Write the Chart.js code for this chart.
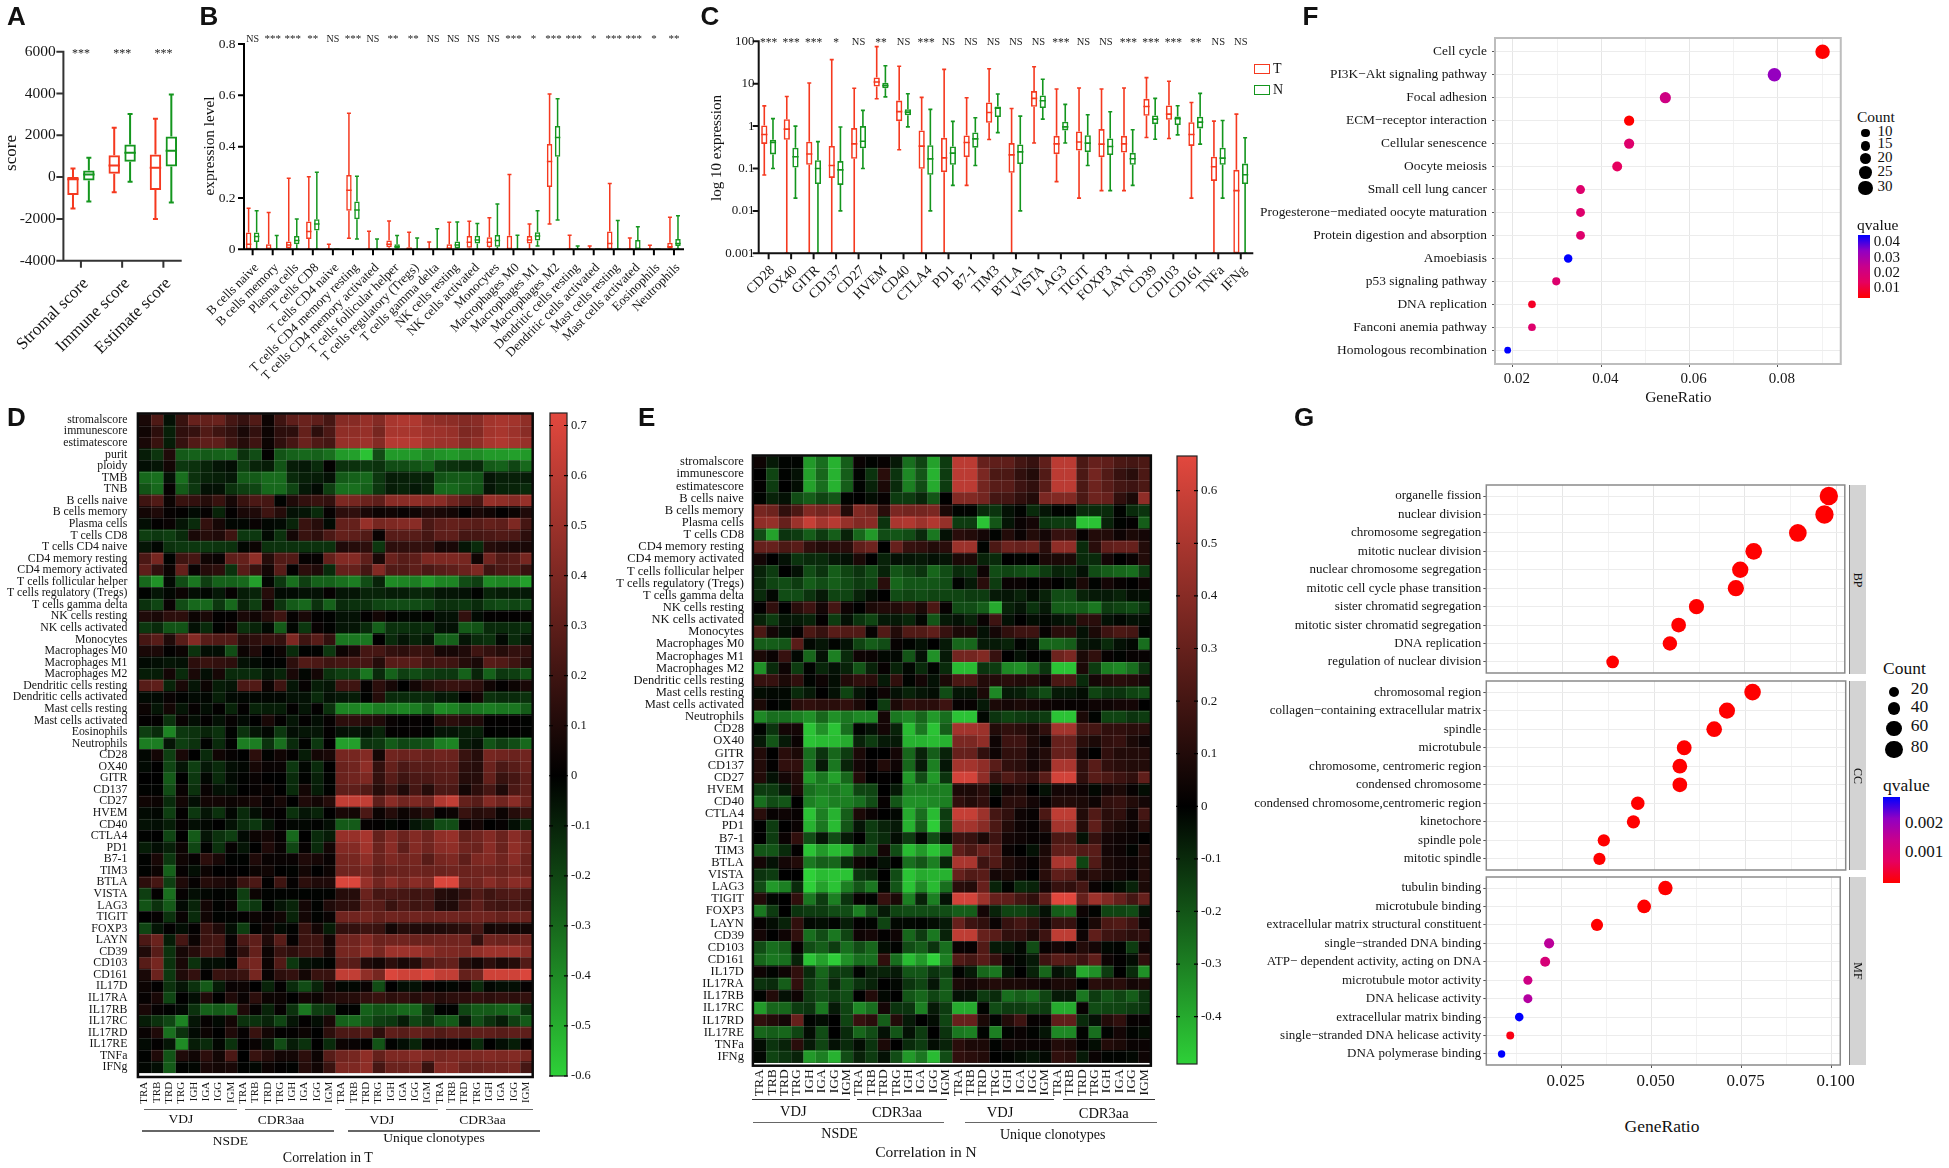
<!DOCTYPE html>
<html>
<head>
<meta charset="utf-8">
<title>Immune correlation figure</title>
<style>
body { margin: 0; background: #fff; width: 1949px; height: 1168px; position: relative; overflow: hidden; font-family: "Liberation Serif", serif; }
canvas { position: absolute; }
.t { position: absolute; white-space: nowrap; color: #111; line-height: 1; }
.d { position: absolute; }
</style>
<script src="https://cdn.jsdelivr.net/npm/chart.js@4/dist/chart.umd.js"></script>
</head>
<body>
<script>
// ---- panel A: [low whisker, q1, median, q3, high whisker]
const aLabels = ['Stromal score', 'Immune score', 'Estimate score'];
const aT = [[-1500,-860,-100,0,415],[-720,160,560,1040,2360],[-2000,-620,445,1085,2790]];
const aN = [[-1165,-160,130,320,925],[-220,730,1165,1560,3015],[-1210,510,1260,1945,3955]];
const aSig = ['***','***','***'];
const aTicks = [6000,4000,2000,0,-2000,-4000];

// ---- panel B
const bLabels = ['B cells naive','B cells memory','Plasma cells','T cells CD8','T cells CD4 naive','T cells CD4 memory resting','T cells CD4 memory activated','T cells follicular helper','T cells regulatory (Tregs)','T cells gamma delta','NK cells resting','NK cells activated','Monocytes','Macrophages M0','Macrophages M1','Macrophages M2','Dendritic cells resting','Dendritic cells activated','Mast cells resting','Mast cells activated','Eosinophils','Neutrophils'];
const bT = [[0,0,.02,.065,.16],[0,0,.003,.02,.143],[0,.004,.017,.03,.277],[0,.04,.069,.108,.283],[0,0,0,.002,.02],[.043,.15,.23,.29,.53],[0,0,0,.001,.07],[0,.008,.02,.034,.11],[0,0,.002,.008,.066],[0,0,0,.001,.028],[0,0,.004,.02,.105],[0,.006,.027,.052,.109],[0,.008,.027,.047,.123],[0,0,.002,.053,.291],[0,.023,.036,.052,.099],[.099,.243,.342,.41,.605],[0,0,0,.003,.055],[0,0,0,.001,.013],[0,0,.023,.069,.256],[0,0,0,.003,.044],[0,0,0,.001,.016],[0,.004,.01,.026,.125]];
const bN = [[0,.028,.05,.065,.15],[0,0,0,0,.054],[0,.02,.034,.052,.118],[0,.073,.099,.117,.3],[0,0,0,0,0],[.04,.117,.153,.186,.285],[0,0,0,0,.04],[0,.004,.01,.02,.054],[0,0,0,0,.044],[0,0,0,0,.08],[0,.004,.017,.03,.106],[0,.023,.036,.053,.101],[0,.01,.034,.056,.177],[0,0,0,0,.055],[.013,.034,.052,.066,.15],[.114,.361,.436,.48,.587],[0,0,0,0,.013],[0,0,0,0,0],[0,0,0,0,.112],[0,.001,.002,.036,.088],[0,0,0,0,0],[0,.013,.023,.04,.131]];
const bSig = ['NS','***','***','**','NS','***','NS','**','**','NS','NS','NS','NS','***','*','***','***','*','***','***','*','**'];
const bTicks = [.8,.6,.4,.2,0];

// ---- panel C
const cLabels = ['CD28','OX40','GITR','CD137','CD27','HVEM','CD40','CTLA4','PD1','B7-1','TIM3','BTLA','VISTA','LAG3','TIGIT','FOXP3','LAYN','CD39','CD103','CD161','TNFa','IFNg'];
const cT = [[.07,.38,.635,1.04,3],[.001,.475,.85,1.46,5],[.001,.122,.22,.43,10.4],[.001,.06,.118,.34,37],[.001,.17,.38,.9,7.8],[4.4,8.6,11,14,75],[.276,1.31,2.2,4,25.7],[.001,.098,.337,.79,4.75],[.001,.082,.178,.53,21.8],[.04,.185,.41,.6,4.67],[.484,1.2,2.1,3.6,22.6],[.001,.079,.21,.397,2.6],[.4,2.86,4.5,6.7,25.2],[.049,.218,.38,.59,7.5],[.02,.266,.42,.75,7.9],[.03,.185,.375,.85,7.5],[.03,.238,.38,.59,7.9],[.54,1.75,2.9,4.4,13.9],[.51,1.41,1.92,3.08,11.4],[.02,.34,.635,1.24,3.6],[.001,.051,.11,.19,1.31],[.001,.001,.03,.093,1.92]];
const cN = [[.1,.215,.41,.475,1.5],[.02,.105,.19,.31,1],[.001,.043,.1,.157,.43],[.01,.041,.093,.15,.95],[.1,.3,.44,1,2.35],[4.9,7.8,9,10.5,26.6],[.96,1.8,2.14,2.5,5.8],[.01,.071,.169,.355,2.48],[.04,.122,.23,.33,1.29],[.118,.31,.5,.71,1.57],[.7,1.63,2.66,2.9,5.7],[.01,.127,.247,.37,1.72],[1.46,2.66,3.96,5.3,12.7],[.4,.79,.96,1.27,3.25],[.118,.243,.397,.61,1.85],[.03,.207,.33,.51,2.18],[.04,.122,.17,.234,.82],[.49,1.11,1.46,1.79,4.5],[.62,1.06,1.49,1.69,3.02],[.375,.88,1.24,1.66,5.9],[.02,.122,.176,.31,1.36],[.001,.043,.071,.131,.53]];
const cSig = ['***','***','***','*','NS','**','NS','***','NS','NS','NS','NS','NS','***','NS','NS','***','***','***','**','NS','NS'];
const cTicks = [100,10,1,.1,.01,.001];

// ---- panels D and E, correlation x 100
const heatCols = ['TRA','TRB','TRD','TRG','IGH','IGA','IGG','IGM','TRA','TRB','TRD','TRG','IGH','IGA','IGG','IGM','TRA','TRB','TRD','TRG','IGH','IGA','IGG','IGM','TRA','TRB','TRD','TRG','IGH','IGA','IGG','IGM'];
const dRows = ['stromalscore','immunescore','estimatescore','purit','ploidy','TMB','TNB','B cells naive','B cells memory','Plasma cells','T cells CD8','T cells CD4 naive','CD4 memory resting','CD4 memory activated','T cells follicular helper','T cells regulatory (Tregs)','T cells gamma delta','NK cells resting','NK cells activated','Monocytes','Macrophages M0','Macrophages M1','Macrophages M2','Dendritic cells resting','Dendritic cells activated','Mast cells resting','Mast cells activated','Eosinophils','Neutrophils','CD28','OX40','GITR','CD137','CD27','HVEM','CD40','CTLA4','PD1','B7-1','TIM3','BTLA','VISTA','LAG3','TIGIT','FOXP3','LAYN','CD39','CD103','CD161','IL17D','IL17RA','IL17RB','IL17RC','IL17RD','IL17RE','TNFa','IFNg'];
const dCells = [
[8,25,-5,18,33,32,34,22,17,26,4,20,30,34,30,22,43,43,48,42,54,56,56,48,46,45,42,44,52,54,52,46],
[5,14,-9,15,17,26,20,16,8,16,4,14,14,32,14,24,46,46,48,38,54,54,54,50,50,48,40,42,52,54,50,44],
[8,18,-8,17,26,30,30,20,12,20,4,15,22,34,25,22,48,48,50,42,58,58,58,52,50,50,42,46,54,56,52,48],
[-8,-15,10,-26,-28,-26,-28,-30,-14,-22,1,-24,-28,-30,-28,-32,-44,-46,-56,-22,-44,-44,-44,-38,-42,-44,-40,-40,-44,-44,-46,-44],
[-4,-6,6,-16,-14,-10,-6,-4,-18,-10,-8,-24,-8,-7,-12,1,-14,-14,-16,-14,-22,-22,-24,-28,-16,-14,-12,-12,-26,-28,-20,-30],
[-30,-32,-5,-32,-14,-10,-9,-7,-26,-26,-31,-31,-12,-9,-8,-5,-26,-28,-30,-16,-8,-9,-10,-9,-24,-26,-26,-24,-6,-9,-9,-8],
[-24,-30,2,-26,-16,-5,-5,-14,-18,-20,-30,-30,-20,-7,-3,-18,-32,-32,-28,-16,-8,-10,-7,-10,-30,-30,-26,-24,-6,-10,-10,-12],
[20,26,4,18,16,12,18,7,18,24,22,-1,10,16,18,16,40,38,34,30,44,44,46,44,44,36,28,22,48,46,42,48],
[6,10,2,1,-3,2,-10,1,8,10,20,12,-5,-6,-12,2,14,15,8,4,5,3,5,10,8,6,1,8,5,1,4,10],
[-4,1,3,-6,-12,16,7,-2,-2,3,-2,-3,-10,18,12,-3,32,32,48,38,40,42,44,24,30,32,30,28,32,30,40,22],
[-18,-16,-18,-12,8,12,10,20,-16,-16,-3,-14,6,18,14,24,32,30,26,3,28,28,28,22,30,30,22,22,24,26,24,14],
[-6,-2,-14,-16,-16,-16,-15,-14,-2,4,-14,-14,-14,-14,-14,-14,10,12,14,-16,14,15,16,16,7,8,-6,-12,12,10,8,8],
[24,38,-1,20,22,5,3,30,32,46,12,26,26,2,2,32,42,42,30,8,34,28,30,40,40,40,38,5,36,26,28,38],
[30,16,4,32,3,12,14,-14,28,18,6,28,1,14,10,-12,32,32,22,42,26,26,30,24,28,30,34,40,20,24,26,18],
[-30,-42,-3,-22,-34,-18,-28,-28,-30,-46,-2,-16,-32,-18,-28,-28,-32,-36,-22,-10,-40,-38,-36,-44,-38,-38,-22,-18,-40,-38,-38,-46],
[-1,-6,-2,4,-4,-2,-7,2,-8,-10,12,-3,-3,-5,-5,2,-6,-6,-10,-10,-8,-8,-11,-10,-6,-6,-5,-1,-10,-8,-8,-7],
[-14,-20,3,-22,-30,-30,-16,-30,-10,-18,6,-15,-26,-30,-14,-28,-12,-14,-14,-20,-22,-22,-22,-20,-14,-14,-16,-12,-20,-22,-20,-22],
[10,8,14,14,4,8,1,1,8,5,12,20,2,8,1,-1,-5,-5,1,6,1,-2,-2,1,-5,-5,16,-3,1,1,1,2],
[-16,-12,-24,-24,-5,-12,-1,4,-14,-10,-3,-26,-2,-16,3,-1,-6,-6,-12,-28,-14,-14,-12,-14,-5,-5,-26,-24,-12,-12,-12,-14],
[22,28,10,28,42,28,26,26,12,14,18,16,40,20,28,16,-34,-34,-34,0,-12,-6,-10,-6,-28,-28,-6,-12,-14,-3,-12,-6],
[8,9,1,4,-14,-4,-4,-22,4,10,0,4,-12,-1,-1,-16,4,8,22,22,16,14,18,18,7,7,10,20,16,12,16,16],
[-3,-4,-6,-5,14,18,16,14,-5,-3,-1,-1,14,26,24,20,22,22,22,12,28,28,28,20,22,20,12,8,28,26,20,12],
[-8,-8,6,-12,8,-4,7,-12,-12,-12,-6,-10,8,-2,6,-14,-18,-18,-34,-12,-28,-18,-22,-18,-16,-16,-28,-10,-28,-16,-18,-24],
[28,30,-10,8,-6,4,-8,-6,24,26,4,20,-6,2,-8,-6,20,20,2,14,7,0,6,12,16,18,16,14,5,1,4,8],
[-3,-3,3,-1,-3,-2,-9,-3,-2,-2,-2,-2,-5,-5,-12,-5,-7,-8,-1,12,-12,-12,-12,-12,-7,-8,0,6,-14,-12,-12,-14],
[4,-6,6,-6,2,-4,1,-10,1,-10,-8,-8,1,-6,1,-14,-38,-38,-40,-36,-36,-38,-36,-28,-40,-38,-30,-34,-36,-34,-34,-26],
[1,1,-14,3,-4,1,-5,2,-3,0,8,1,-6,1,-4,2,14,14,12,10,3,1,2,1,12,14,10,10,1,1,1,-1],
[-18,-12,-38,-16,-14,-10,-14,-1,-14,-6,-2,-16,-4,-6,-6,1,-5,-6,-4,-10,1,1,2,-1,-6,-6,-8,-9,0,-1,1,-1],
[-36,-36,-6,-18,-14,-1,-12,-1,-36,-36,-14,-32,-12,-1,-16,0,-46,-46,-14,-16,-26,-20,-22,-24,-36,-38,-8,-5,-24,-18,-22,-30],
[-2,6,-18,8,0,-12,5,2,0,14,-1,5,1,-8,6,8,38,38,42,6,36,34,36,32,36,34,18,12,38,36,34,36],
[-3,0,-20,-6,-18,-7,-12,-4,-2,7,3,3,-16,-2,-12,0,34,36,46,16,32,24,28,28,30,30,14,12,34,24,28,34],
[0,0,-26,0,-16,-2,-12,-3,-1,3,0,0,-12,-1,-9,-1,34,36,40,16,28,20,24,24,28,28,12,12,32,18,22,30],
[-1,-1,-22,3,-14,3,-5,-5,0,2,4,0,-12,6,-8,-1,30,30,26,12,20,10,22,12,24,24,6,14,22,10,24,30],
[5,4,-12,6,-4,6,6,4,5,8,2,7,0,10,6,12,62,62,62,30,44,36,40,36,56,62,32,28,42,36,44,34],
[-3,-2,-18,1,-16,-6,-14,-2,-12,-4,3,1,-14,-6,-10,0,8,6,24,4,12,4,8,14,2,4,18,12,14,4,12,18],
[-5,-4,-8,2,-4,-2,0,-5,-12,-16,-6,1,-2,-2,-1,-4,-26,-26,2,1,-2,0,-6,-10,-22,-22,2,6,0,2,-4,-10],
[-1,0,-20,0,-26,-6,-14,-18,-3,4,6,2,-30,0,-12,-8,48,48,54,32,42,34,42,36,46,48,32,36,42,34,44,36],
[-8,-4,-9,4,-20,-1,-14,2,-6,0,10,3,-20,2,-12,6,42,42,52,34,44,30,42,36,44,46,36,34,44,34,46,38],
[-1,8,-16,5,2,14,8,-1,-1,10,3,3,3,10,7,3,38,38,46,34,40,36,38,28,38,40,30,40,42,36,44,34],
[-1,4,-28,2,-4,4,0,1,0,4,5,0,-1,6,0,4,36,36,40,30,34,34,36,34,34,36,34,36,36,34,38,34],
[14,22,-18,10,2,12,10,6,18,24,1,20,2,14,10,10,70,70,48,36,44,38,44,40,70,70,36,36,44,38,44,42],
[-18,1,-32,2,-4,-2,-1,-2,-18,4,-1,-1,-1,-1,-1,-1,12,12,34,22,24,22,20,22,12,10,16,26,20,24,26,22],
[-24,-14,-26,-3,-10,6,-1,3,-20,-16,-1,-6,-10,6,-1,10,14,14,30,28,18,24,20,22,10,10,22,30,22,20,22,20],
[0,2,-14,3,-12,5,-1,-1,1,4,2,5,-10,6,-1,3,36,36,38,32,36,34,36,34,36,36,34,36,36,32,36,34],
[-20,-6,1,-4,1,18,10,-4,-18,-1,5,-3,-1,18,6,-8,16,16,20,18,6,12,10,10,10,12,14,22,6,8,6,6],
[24,34,-8,22,4,20,22,3,24,30,10,28,2,20,20,6,36,36,42,34,36,36,34,34,36,36,36,16,36,34,36,36],
[10,28,-14,7,12,22,20,3,14,32,4,18,14,20,20,8,38,38,46,38,50,50,50,46,40,40,38,46,50,50,50,44],
[28,38,-14,8,-14,-4,-4,-1,32,38,4,26,-16,-5,-3,-1,30,28,10,6,14,8,12,26,30,32,12,6,14,8,12,26],
[8,34,-16,10,16,1,18,16,18,38,3,14,16,6,18,18,62,62,46,38,70,66,66,70,62,62,32,36,66,66,66,70],
[4,1,-14,-6,-14,-26,-8,3,4,0,-10,1,-12,-22,-10,6,-2,-2,3,-22,0,-4,-5,2,-1,-2,3,-12,-2,-4,-4,2],
[2,8,-20,0,-4,10,0,10,3,14,4,4,0,6,4,10,12,12,16,18,14,16,12,16,12,14,14,16,14,16,14,16],
[8,2,-1,-3,-14,-28,-26,-28,10,2,-10,2,-14,-34,-18,-16,-1,-1,-28,-24,-26,-30,-30,-14,-1,-1,-20,-26,-26,-28,-30,-14],
[-8,-14,-20,-38,-6,2,-3,6,-14,-14,-10,-20,-6,1,-4,8,-28,-30,-24,-18,-16,-8,-20,-14,-24,-26,-6,-22,-14,-8,-18,-26],
[3,10,-32,-14,-3,4,0,10,2,18,6,1,1,4,0,14,24,24,28,14,30,28,32,30,26,30,28,30,30,28,30,30],
[-3,1,-6,-40,-8,-12,-2,-14,0,3,-6,-22,-8,-14,0,-12,4,3,1,-24,-1,-4,-10,2,2,2,1,-12,0,-4,-8,1],
[-1,10,-24,10,5,14,6,24,0,18,12,6,6,14,4,28,36,38,46,32,40,40,44,40,38,40,40,40,42,40,42,38],
[-2,-4,-26,-1,-2,8,6,8,-1,-2,4,1,-1,12,5,18,40,40,46,22,34,34,38,18,42,42,34,34,36,36,38,22]
];
const dBarTicks = [.7,.6,.5,.4,.3,.2,.1,0,-.1,-.2,-.3,-.4,-.5,-.6];

const eRows = ['stromalscore','immunescore','estimatescore','B cells naive','B cells memory','Plasma cells','T cells CD8','CD4 memory resting','CD4 memory activated','T cells follicular helper','T cells regulatory (Tregs)','T cells gamma delta','NK cells resting','NK cells activated','Monocytes','Macrophages M0','Macrophages M1','Macrophages M2','Dendritic cells resting','Mast cells resting','Mast cells activated','Neutrophils','CD28','OX40','GITR','CD137','CD27','HVEM','CD40','CTLA4','PD1','B7-1','TIM3','BTLA','VISTA','LAG3','TIGIT','FOXP3','LAYN','CD39','CD103','CD161','IL17D','IL17RA','IL17RB','IL17RC','IL17RD','IL17RE','TNFa','IFNg'];
const eCells = [
[4,-6,-1,-1,-36,-26,-42,-22,3,-1,2,-6,-26,-16,-38,-14,55,55,30,28,28,20,16,28,55,55,22,30,28,22,20,22],
[0,-16,-1,-4,-38,-24,-42,-22,-1,-12,12,-12,-32,-20,-42,-14,55,55,36,22,22,14,10,24,55,55,22,34,24,16,12,22],
[1,-14,0,-3,-38,-26,-42,-22,-1,-8,8,-10,-30,-18,-40,-14,55,55,34,26,26,18,14,26,55,55,22,32,26,20,18,22],
[-1,-8,-4,-18,-22,-16,-20,-1,0,-3,2,-14,-14,-9,-20,0,38,38,34,20,20,14,10,36,38,38,22,32,30,14,8,42],
[35,32,14,22,38,34,38,10,38,34,12,36,34,34,36,8,-1,-1,-10,-12,-4,-1,-10,-5,-1,-1,-10,-10,-10,-1,-10,-12],
[42,44,30,46,58,48,54,44,38,40,-12,50,52,46,52,44,-14,-14,-46,-20,-5,3,6,-12,-14,-14,-46,-46,-8,-1,1,-22],
[-18,-38,-12,-14,-22,-14,-22,-8,-24,-36,-18,-20,-18,-10,-28,-4,12,10,6,-1,10,3,10,6,16,16,2,10,10,4,8,6],
[30,30,22,26,14,10,12,12,28,32,0,30,16,14,10,12,46,46,-1,22,32,30,32,12,42,42,-10,12,28,30,30,10],
[6,0,-4,-12,-10,-10,-6,-4,8,0,-8,-4,-5,-6,-4,-5,8,8,-8,-10,0,-1,0,8,8,8,-10,-10,6,0,3,10],
[-8,-14,0,-4,-18,-12,-22,-16,-12,-18,-8,-20,-16,-12,-24,-18,-10,-12,4,-18,-16,-18,-20,-14,-8,-10,-4,-18,-22,-24,-26,-14],
[-10,-16,-18,-14,-22,-18,-22,-18,-14,-16,12,-24,-20,-20,-20,-18,-1,-6,12,-14,3,3,0,3,0,-3,8,-1,6,2,0,4],
[-10,-2,-18,-18,-12,-6,-16,-16,-8,-3,0,-18,-16,-18,-16,-16,-16,-14,-14,-6,-5,-8,-3,-8,-18,-18,-8,-6,-6,-8,-3,-3],
[1,14,0,12,18,6,20,4,0,8,10,10,14,8,22,2,-18,-18,-22,-40,-8,-5,-12,-6,-22,-22,-22,-28,-14,-16,-18,-12],
[-8,-14,-5,-6,-8,1,-14,-4,-12,-16,-6,-6,-9,-2,-20,-6,-4,-8,3,18,-4,0,-3,-2,-4,-6,12,12,-4,-2,-4,-3],
[22,6,-3,2,22,16,26,24,24,2,24,10,24,24,28,16,8,8,-4,6,14,18,18,2,12,12,-4,8,18,22,20,-1],
[-22,-22,-20,26,-2,-5,-1,-4,-16,-22,-18,2,-1,-4,0,-6,-24,-24,-6,-6,-8,-1,-4,-24,-24,-22,-6,-4,-10,-4,-2,-26],
[8,3,16,-2,-24,-4,-30,-10,4,3,-2,-2,-20,-4,-34,-6,34,34,38,16,0,-4,1,-1,32,36,8,14,2,-1,2,2],
[-34,-10,4,-14,-1,-9,-4,-8,-20,-8,2,-8,-2,-10,-1,-10,-44,-44,-12,-14,-32,-34,-26,-12,-46,-46,8,-14,-30,-32,-26,-12],
[16,16,8,14,-1,4,-3,10,14,12,-6,14,-1,6,-4,8,22,22,10,10,12,10,10,4,22,22,-10,6,10,12,10,6],
[-3,-2,-2,-10,-6,0,-4,-16,-5,-1,4,-4,-8,-5,-3,-18,-5,-5,8,-32,-6,-7,-12,-18,-6,-6,-3,-16,-12,-12,-16,-18],
[8,0,-2,12,14,12,12,14,8,0,-14,8,14,12,12,18,2,2,-6,8,6,8,6,4,3,2,2,4,4,6,6,0],
[-32,-26,-26,-30,-34,-24,-34,-28,-32,-32,6,-28,-32,-24,-36,-26,-46,-46,-2,-12,-16,-14,-12,-14,-46,-46,8,-1,-16,-16,-12,-14],
[-1,-12,6,6,-46,-34,-46,-26,-1,-4,6,-8,-44,-28,-46,-22,48,48,46,10,14,12,8,14,48,48,20,20,14,14,12,12],
[-6,-20,-6,3,-46,-44,-44,-40,-8,-14,-6,-6,-42,-42,-44,-42,36,36,42,4,18,18,8,3,30,30,12,8,14,16,8,4],
[10,0,12,8,-26,-12,-24,-14,8,0,0,6,-24,-8,-22,-8,30,30,14,4,14,14,6,10,30,30,5,0,14,10,10,10],
[10,1,14,14,-26,-6,-28,-8,6,2,10,4,-24,-6,-30,-5,48,48,42,26,14,12,6,10,50,50,14,26,14,12,10,10],
[10,-4,6,10,-36,-28,-38,-24,10,0,1,0,-36,-18,-36,-12,62,62,42,16,24,18,14,26,62,62,14,26,22,18,14,28],
[-14,-14,-6,8,-26,-30,-28,-32,-16,-16,0,-6,-30,-30,-30,-30,8,8,12,-3,6,8,0,-4,6,6,4,-2,6,8,2,-3],
[-26,-18,-20,0,-30,-34,-30,-30,-26,-18,2,-20,-34,-34,-32,-30,14,10,14,0,12,12,6,2,10,10,8,4,14,16,10,6],
[12,2,4,2,-46,-30,-42,-22,8,3,0,-2,-40,-26,-44,-14,58,58,46,20,14,4,2,22,56,56,10,24,12,14,4,20],
[0,-14,0,3,-42,-28,-44,-20,-5,-14,-8,-6,-42,-22,-48,-16,48,48,40,22,10,4,2,10,48,48,10,28,12,8,4,12],
[0,-14,3,14,-18,-5,-18,-6,0,-14,-10,-3,-14,-2,-18,-3,18,16,8,18,6,4,2,3,22,22,-4,16,6,4,3,0],
[-20,-20,-10,1,-46,-36,-44,-40,-20,-18,6,-18,-44,-36,-46,-36,28,22,30,24,3,0,-4,8,28,28,24,26,6,4,-1,10],
[6,-4,6,10,-28,-22,-24,-10,4,1,-4,0,-26,-20,-30,-8,50,50,18,24,10,6,2,10,50,50,-16,24,8,6,4,8],
[-12,-14,0,0,-50,-44,-46,-46,-12,-10,0,-18,-46,-40,-42,-42,30,24,26,6,8,4,0,12,28,26,8,12,8,6,2,10],
[-18,-36,-30,-10,-50,-38,-46,-30,-20,-28,-2,-20,-46,-32,-44,-26,12,10,30,-8,-1,-10,-8,6,16,14,20,3,-1,-3,-8,8],
[10,-2,0,14,-28,-14,-30,-12,2,-1,16,8,-30,-8,-30,-4,62,62,46,30,28,20,14,28,66,66,30,46,38,30,20,30],
[-28,-14,0,-12,-14,-14,-18,-18,-30,-18,-6,-16,-18,-18,-18,-18,-22,-22,6,-8,-16,-16,-12,-4,-22,-24,4,-1,-16,-16,-18,-4],
[2,-3,-8,14,-2,-3,-1,-7,1,-1,-16,-2,-2,-1,-3,-6,30,18,14,3,16,20,14,5,16,16,0,8,22,24,18,4],
[6,0,4,14,-26,-18,-28,-16,4,6,1,4,-24,-14,-28,-8,56,56,30,26,14,14,8,18,56,56,4,28,18,16,12,14],
[-18,-26,-22,2,-18,-22,-14,-26,-18,-24,-3,-1,-18,-22,-12,-26,3,2,24,-6,-6,-2,-18,2,6,2,10,6,-2,-1,-14,4],
[-24,-28,-26,-8,-46,-38,-48,-34,-26,-26,14,-26,-44,-36,-50,-30,24,20,26,16,3,-2,-6,18,26,24,18,28,4,1,-3,14],
[4,-1,4,14,-10,-24,-14,-14,-1,-8,-8,-6,-20,-20,-12,-16,-1,-6,-24,-28,-5,0,-8,-24,-4,-8,-40,-34,-14,0,-10,-34],
[-12,-10,-22,14,-14,-20,-8,-20,-12,-8,0,-2,-12,-16,-5,-20,8,6,8,10,8,8,6,4,8,8,0,12,10,12,6,8],
[-1,10,-4,4,-14,-18,-14,-18,0,10,-2,0,-20,-24,-16,-22,-4,-5,-14,-10,-26,-22,-26,-16,-6,-6,-28,-14,-20,-16,-22,-12],
[-36,-24,-24,-14,-12,-28,-6,-16,-32,-26,6,-12,-12,-30,-6,-14,-40,-40,-1,-18,-14,-14,-16,-14,-40,-40,2,-18,-16,-16,-14,-12],
[14,10,6,30,-1,-3,0,-16,16,12,-22,10,-6,0,-3,-16,30,30,8,-1,10,18,2,2,28,28,-10,-4,10,14,2,2],
[-24,-22,-24,-16,-3,-18,0,-10,-24,-18,-4,-20,-4,-14,0,-12,-28,-30,-1,-30,-1,3,-1,-5,-32,-32,-1,-26,-1,6,-1,-3],
[-3,-12,-8,12,-6,-16,-4,-10,-3,-12,8,0,-10,-14,-3,-8,12,8,8,-1,6,4,3,3,10,8,1,-3,10,8,3,3],
[-2,-16,-12,-8,-36,-30,-42,-18,-8,-14,-4,-18,-36,-28,-44,-18,14,12,10,0,-1,-3,-5,-2,14,12,-6,3,-1,-1,-2,4]
];
const eBarTicks = [.6,.5,.4,.3,.2,.1,0,-.1,-.2,-.3,-.4];

// ---- panel F
const fTerms = ['Cell cycle','PI3K−Akt signaling pathway','Focal adhesion','ECM−receptor interaction','Cellular senescence','Oocyte meiosis','Small cell lung cancer','Progesterone−mediated oocyte maturation','Protein digestion and absorption','Amoebiasis','p53 signaling pathway','DNA replication','Fanconi anemia pathway','Homologous recombination'];
const fRatio = [.0901,.0792,.0545,.0463,.0463,.0436,.0353,.0353,.0353,.0325,.0298,.0243,.0243,.0188];
const fCount = [32,28,19,16,16,15,12,12,12,11,10,9,9,7];
const fQ = [.0024,.0326,.021,.0024,.0156,.0127,.0156,.0156,.0156,.0437,.016,.0065,.0156,.0437];
const fXTicks = [.02,.03,.04,.05,.06,.07,.08,.09];
const fLegendCount = [10,15,20,25,30];
const fLegendQ = [.04,.03,.02,.01];

// ---- panel G
const gBpTerms = ['organelle fission','nuclear division','chromosome segregation','mitotic nuclear division','nuclear chromosome segregation','mitotic cell cycle phase transition','sister chromatid segregation','mitotic sister chromatid segregation','DNA replication','regulation of nuclear division'];
const gBpRatio = [.098,.0968,.0895,.0774,.0737,.0725,.0617,.0568,.0544,.0387];
const gBpCount = [96,95,88,76,72,71,60,56,53,38];
const gBpQ = [0,0,0,0,0,0,0,0,0,0];
const gCcTerms = ['chromosomal region','collagen−containing extracellular matrix','spindle','microtubule','chromosome, centromeric region','condensed chromosome','condensed chromosome,centromeric region','kinetochore','spindle pole','mitotic spindle'];
const gCcRatio = [.0769,.0699,.0664,.0582,.057,.057,.0455,.0443,.0362,.035];
const gCcCount = [75,69,65,57,56,56,45,43,35,34];
const gCcQ = [0,0,0,0,0,0,0,0,0,0];
const gMfTerms = ['tubulin binding','microtubule binding','extracellular matrix structural constituent','single−stranded DNA binding','ATP− dependent activity, acting on DNA','microtubule motor activity','DNA helicase activity','extracellular matrix binding','single−stranded DNA helicase activity','DNA polymerase binding'];
const gMfRatio = [.0538,.0479,.0348,.0215,.0204,.0156,.0156,.0132,.0107,.0083];
const gMfCount = [53,47,34,21,20,15,15,13,10,8];
const gMfQ = [0,0,0,.0016,.0011,.0013,.0017,.00287,.00015,.00287];
const gXTicks = [.0125,.025,.0375,.05,.0625,.075,.0875,.1];
const gLegendCount = [20,40,60,80];
const gLegendQ = [.002,.001];

const RED = '#f5391f';
const GREEN = '#14961e';
const SERIF = '"Liberation Serif"';
Chart.defaults.font.family = SERIF;
Chart.defaults.color = '#151515';
Chart.defaults.animation = false;
Chart.defaults.plugins.legend.display = false;
Chart.defaults.plugins.tooltip.enabled = false;

function addCanvas(box) {
    const c = document.createElement('canvas');
    c.width = box.right - box.left;
    c.height = box.bottom - box.top;
    c.style.left = box.left + 'px';
    c.style.top = box.top + 'px';
    document.body.appendChild(c);
    return c;
}

// text placed by its centre (or its left edge with left=true)
function addText(text, x, y, size, o = {}) {
    const d = document.createElement('div');
    d.className = 't';
    d.textContent = text;
    d.style.left = x + 'px';
    d.style.top = y + 'px';
    d.style.fontSize = size + 'px';
    if (o.family) d.style.fontFamily = o.family;
    if (o.bold) d.style.fontWeight = 'bold';
    const shift = o.left ? 'translate(0,-50%)' : 'translate(-50%,-50%)';
    d.style.transform = shift + (o.rot ? ` rotate(${o.rot}deg)` : '');
    document.body.appendChild(d);
}

function addRect(x1, y1, x2, y2, css) {
    const d = document.createElement('div');
    d.className = 'd';
    d.style.left = x1 + 'px';
    d.style.top = y1 + 'px';
    d.style.width = (x2 - x1) + 'px';
    d.style.height = (y2 - y1) + 'px';
    Object.assign(d.style, css);
    document.body.appendChild(d);
}

// box, whiskers, axis lines, significance marks
const boxMarks = {
    id: 'boxMarks',
    afterDatasetsDraw(chart, args, o) {
        const ctx = chart.ctx, y = chart.scales.y, x = chart.scales.x, area = chart.chartArea;
        ctx.save();
        chart.data.datasets.forEach((ds, d) => {
            ctx.strokeStyle = ds.borderColor;
            ctx.lineWidth = o.lineWidth;
            chart.getDatasetMeta(d).data.forEach((bar, i) => {
                const [lo, q1, med, q3, hi] = ds.stats[i];
                const w = bar.width / 2, c = o.cap;
                ctx.beginPath();
                ctx.moveTo(bar.x, y.getPixelForValue(hi));
                ctx.lineTo(bar.x, y.getPixelForValue(q3));
                ctx.moveTo(bar.x, y.getPixelForValue(q1));
                ctx.lineTo(bar.x, y.getPixelForValue(lo));
                ctx.moveTo(bar.x - c, y.getPixelForValue(hi));
                ctx.lineTo(bar.x + c, y.getPixelForValue(hi));
                ctx.moveTo(bar.x - c, y.getPixelForValue(lo));
                ctx.lineTo(bar.x + c, y.getPixelForValue(lo));
                ctx.moveTo(bar.x - w, y.getPixelForValue(med));
                ctx.lineTo(bar.x + w, y.getPixelForValue(med));
                ctx.stroke();
            });
        });
        ctx.strokeStyle = o.axisColor;
        ctx.lineWidth = o.axisWidth;
        ctx.beginPath();
        ctx.moveTo(o.axisX, area.top - 1);
        ctx.lineTo(o.axisX, area.bottom + 1);
        ctx.moveTo(o.axisX, area.bottom);
        ctx.lineTo(o.axisEnd, area.bottom);
        y.ticks.forEach(t => {
            const p = y.getPixelForValue(t.value);
            ctx.moveTo(o.axisX, p);
            ctx.lineTo(o.axisX - o.tick, p);
        });
        x.ticks.forEach((t, i) => {
            const p = x.getPixelForTick(i);
            ctx.moveTo(p, area.bottom);
            ctx.lineTo(p, area.bottom + o.tick);
        });
        ctx.stroke();
        ctx.fillStyle = '#222';
        ctx.textAlign = 'center';
        ctx.textBaseline = 'middle';
        o.sig.forEach((s, i) => {
            ctx.font = (s === 'NS' ? o.sigSize : o.sigSize + 1) + 'px ' + SERIF;
            ctx.fillText(s, x.getPixelForTick(i), o.sigY);
        });
        ctx.restore();
    }
};

function boxChart(c) {
    // canvas starts left of the page so long rotated labels never push the plot area
    const box = { left: -120, top: 0, right: c.area.right + 20, bottom: 400 };
    new Chart(addCanvas(box), {
        type: 'bar',
        data: {
            labels: c.labels,
            datasets: [
                { data: c.T.map(s => [s[1], s[3]]), stats: c.T, borderColor: RED, backgroundColor: 'transparent', borderWidth: c.lineWidth, borderSkipped: false },
                { data: c.N.map(s => [s[1], s[3]]), stats: c.N, borderColor: GREEN, backgroundColor: 'transparent', borderWidth: c.lineWidth, borderSkipped: false }
            ]
        },
        options: {
            responsive: false,
            devicePixelRatio: 1,
            layout: { padding: { left: 0, top: c.area.top, right: box.right - c.area.right, bottom: 0 } },
            categoryPercentage: c.catPct,
            barPercentage: c.barPct,
            scales: {
                x: {
                    border: { display: false },
                    grid: { display: false, drawTicks: false },
                    afterFit: s => { s.height = box.bottom - c.area.bottom; },
                    ticks: { autoSkip: false, minRotation: 45, maxRotation: 45, font: { size: c.xFont }, padding: c.xPad, labelOffset: c.labelOffset }
                },
                y: {
                    type: c.log ? 'logarithmic' : 'linear',
                    min: c.min,
                    max: c.max,
                    border: { display: false },
                    grid: { display: false, drawTicks: false },
                    afterFit: s => { s.width = c.area.left - box.left; },
                    afterBuildTicks: s => { s.ticks = c.ticks.map(v => ({ value: v })); },
                    ticks: { autoSkip: false, font: { size: c.yFont }, padding: c.yPad, callback: v => String(v) }
                }
            },
            plugins: {
                boxMarks: { lineWidth: c.lineWidth, cap: c.cap, axisX: c.axisX - box.left, axisEnd: c.axisEnd - box.left, axisColor: c.axisColor, axisWidth: 2, tick: c.tick, sig: c.sig, sigY: c.sigY, sigSize: c.sigSize }
            }
        },
        plugins: [boxMarks]
    });
}

boxChart({ labels: aLabels, T: aT, N: aN, sig: aSig, ticks: aTicks, min: -4000, max: 6000,
    area: { left: 60.3, right: 184.8, top: 51.7, bottom: 260.7 }, axisX: 63.4, axisEnd: 181.7, axisColor: '#333',
    catPct: .77, barPct: .72, lineWidth: 2, cap: 2.5, tick: 7, xFont: 17, yFont: 15.5, xPad: 13, yPad: 4.5, labelOffset: 5, sigY: 53.5, sigSize: 11 });
boxChart({ labels: bLabels, T: bT, N: bN, sig: bSig, ticks: bTicks, min: 0, max: .8,
    area: { left: 242.6, right: 684.7, top: 44, bottom: 249.3 }, axisX: 244, axisEnd: 684, axisColor: '#000',
    catPct: .8, barPct: .68, lineWidth: 1.5, cap: 2, tick: 6, xFont: 13, yFont: 13.5, xPad: 11, yPad: 7, labelOffset: 4, sigY: 39.5, sigSize: 10 });
boxChart({ labels: cLabels, T: cT, N: cN, sig: cSig, ticks: cTicks, min: .001, max: 100, log: true,
    area: { left: 757.4, right: 1252.2, top: 41.3, bottom: 253.3 }, axisX: 758.7, axisEnd: 1253.3, axisColor: '#111',
    catPct: .773, barPct: .72, lineWidth: 1.6, cap: 2, tick: 6, xFont: 14, yFont: 13, xPad: 9, yPad: 3, labelOffset: 4, sigY: 42.5, sigSize: 10.5 });

// heat colour: black at zero, red above, green below
function heatColor(v, max, min) {
    const t = v >= 0 ? Math.min(v / max, 1) : Math.min(v / min, 1);
    const top = v >= 0 ? [226, 72, 62] : [46, 208, 56];
    return `rgb(${Math.round(top[0] * t)},${Math.round(top[1] * t)},${Math.round(top[2] * t)})`;
}

const heatFrame = {
    id: 'heatFrame',
    beforeDatasetsDraw(chart) {
        const a = chart.chartArea;
        chart.ctx.fillStyle = '#111';
        chart.ctx.fillRect(a.left, a.top, a.right - a.left, a.bottom - a.top);
    },
    afterDatasetsDraw(chart, args, o) {
        const ctx = chart.ctx, a = chart.chartArea, x = chart.scales.x;
        const rowH = (a.bottom - a.top) / chart.data.labels.length;
        ctx.save();
        ctx.strokeStyle = 'rgba(255,255,255,.13)';
        ctx.lineWidth = 1;
        ctx.beginPath();
        heatCols.forEach((_, i) => {
            const p = Math.round(x.getPixelForValue(i)) + .5;
            ctx.moveTo(p, a.top);
            ctx.lineTo(p, a.bottom);
        });
        chart.data.labels.forEach((_, i) => {
            const p = Math.round(a.top + i * rowH) + .5;
            ctx.moveTo(a.left, p);
            ctx.lineTo(a.right, p);
        });
        ctx.stroke();
        ctx.strokeStyle = '#0a0a0a';
        ctx.lineWidth = 2.5;
        ctx.strokeRect(a.left - .5, a.top - .5, a.right - a.left + 1, a.bottom - a.top + o.extra);
        ctx.restore();
    }
};

function heatChart(c) {
    const box = { left: c.boxLeft, top: c.area.top - 30, right: c.area.right + 10, bottom: 1168 };
    new Chart(addCanvas(box), {
        type: 'bar',
        data: {
            labels: c.rows,
            datasets: heatCols.map((name, col) => ({
                label: name,
                data: c.rows.map(() => 1),
                backgroundColor: ctx => heatColor(c.cells[ctx.dataIndex][col] / 100, c.max, c.min),
                borderWidth: 0
            }))
        },
        options: {
            responsive: false,
            devicePixelRatio: 1,
            indexAxis: 'y',
            categoryPercentage: 1,
            barPercentage: 1,
            layout: { padding: { left: 0, top: 30, right: 10, bottom: 0 } },
            scales: {
                x: {
                    type: 'linear', min: 0, max: heatCols.length, stacked: true,
                    border: { display: false },
                    grid: { display: false, drawTicks: false },
                    afterFit: s => { s.height = box.bottom - c.area.bottom; },
                    afterBuildTicks: s => { s.ticks = heatCols.map((_, i) => ({ value: i + .5 })); },
                    ticks: { autoSkip: false, minRotation: 90, maxRotation: 90, font: { size: c.colFont }, padding: c.colPad, callback: (v, i) => heatCols[i] }
                },
                y: {
                    stacked: true,
                    border: { display: false },
                    grid: { display: false, drawTicks: false },
                    afterFit: s => { s.width = c.area.left - box.left; },
                    ticks: { autoSkip: false, font: { size: c.rowFont }, padding: c.rowPad }
                }
            },
            plugins: { heatFrame: { extra: c.extra } }
        },
        plugins: [heatFrame]
    });
}

// colour scale as one floating bar on a value axis
const barFrame = {
    id: 'barFrame',
    afterDatasetsDraw(chart) {
        const ctx = chart.ctx, a = chart.chartArea, y = chart.scales.y;
        ctx.save();
        ctx.strokeStyle = '#222';
        ctx.lineWidth = 1.2;
        ctx.strokeRect(a.left, a.top, a.right - a.left, a.bottom - a.top);
        ctx.strokeStyle = '#000';
        ctx.beginPath();
        y.ticks.forEach(t => {
            const p = y.getPixelForValue(t.value);
            ctx.moveTo(a.left - 1, p);
            ctx.lineTo(a.left + 3, p);
            ctx.moveTo(a.right - 3, p);
            ctx.lineTo(a.right + 1, p);
        });
        ctx.stroke();
        ctx.restore();
    }
};

function colorBar(c) {
    const box = { left: c.area.left - 5, top: c.area.top - 20, right: c.area.right + 40, bottom: c.area.bottom + 20 };
    new Chart(addCanvas(box), {
        type: 'bar',
        data: {
            labels: [''],
            datasets: [{
                data: [[c.min, c.max]],
                borderWidth: 0,
                backgroundColor: ctx => {
                    const a = ctx.chart.chartArea;
                    if (!a) return '#000';
                    const g = ctx.chart.ctx.createLinearGradient(0, a.top, 0, a.bottom);
                    g.addColorStop(0, heatColor(c.max, c.max, c.min));
                    g.addColorStop(c.max / (c.max - c.min), '#000');
                    g.addColorStop(1, heatColor(c.min, c.max, c.min));
                    return g;
                }
            }]
        },
        options: {
            responsive: false,
            devicePixelRatio: 1,
            categoryPercentage: 1,
            barPercentage: 1,
            layout: { padding: { left: 5, top: 20, right: 0, bottom: 20 } },
            scales: {
                x: { display: false },
                y: {
                    position: 'right', min: c.min, max: c.max,
                    border: { display: false },
                    grid: { display: false, drawTicks: false },
                    afterFit: s => { s.width = 40; },
                    afterBuildTicks: s => { s.ticks = c.ticks.map(v => ({ value: v })); },
                    ticks: { autoSkip: false, font: { size: c.font }, padding: 4, callback: v => String(+v.toFixed(1)) }
                }
            }
        },
        plugins: [barFrame]
    });
}

heatChart({ rows: dRows, cells: dCells, max: .725, min: -.6, boxLeft: 0,
    area: { left: 138.4, right: 538.5, top: 413.5, bottom: 1073.1 }, extra: 4.4, colFont: 11, colPad: 8.6, rowFont: 11.8, rowPad: 11 });
colorBar({ min: -.6, max: .725, ticks: dBarTicks, font: 12.5, area: { left: 549.6, right: 567.4, top: 412.7, bottom: 1075.7 } });
heatChart({ rows: eRows, cells: eCells, max: .666, min: -.49, boxLeft: 610,
    area: { left: 753.4, right: 1157.9, top: 455.9, bottom: 1062.8 }, extra: 3.4, colFont: 13.5, colPad: 6.5, rowFont: 12.5, rowPad: 9.5 });
colorBar({ min: -.49, max: .666, ticks: eBarTicks, font: 13, area: { left: 1176.8, right: 1197.4, top: 456, bottom: 1064.3 } });

// q value colour, red through magenta to blue
const qStops = [[255,0,0],[230,0,95],[200,0,140],[145,0,195],[0,0,255]];
function qColor(t) {
    const p = Math.max(0, Math.min(t, 1)) * (qStops.length - 1);
    const i = Math.min(Math.floor(p), qStops.length - 2), f = p - i;
    const m = qStops[i].map((v, k) => Math.round(v + (qStops[i + 1][k] - v) * f));
    return `rgb(${m[0]},${m[1]},${m[2]})`;
}

const panelFrame = {
    id: 'panelFrame',
    afterDatasetsDraw(chart, args, o) {
        const ctx = chart.ctx, a = chart.chartArea;
        ctx.save();
        ctx.strokeStyle = o.color;
        ctx.lineWidth = o.width;
        ctx.strokeRect(a.left, a.top, a.right - a.left, a.bottom - a.top);
        ctx.restore();
    }
};

function dotChart(c) {
    const box = { left: 1200, top: c.area.top - 25, right: c.area.right + 5, bottom: c.showX ? c.area.bottom + 40 : c.area.bottom + 25 };
    const isMajor = v => c.major.includes(v);
    new Chart(addCanvas(box), {
        type: 'bubble',
        data: {
            datasets: [{
                data: c.terms.map((_, i) => ({ x: c.ratio[i], y: i + 1, r: c.size(c.count[i]) })),
                backgroundColor: c.terms.map((_, i) => qColor(c.qT(c.q[i]))),
                borderWidth: 0
            }]
        },
        options: {
            responsive: false,
            devicePixelRatio: 1,
            layout: { padding: { left: 0, top: 25, right: 5, bottom: c.showX ? 0 : 25 } },
            scales: {
                x: {
                    type: 'linear', min: c.xMin, max: c.xMax,
                    border: { display: false },
                    grid: {
                        color: ctx => isMajor(ctx.tick.value) ? '#e6e6e6' : '#f2f2f2',
                        drawTicks: c.showX, tickLength: 3, tickColor: ctx => isMajor(ctx.tick.value) ? '#555' : 'transparent'
                    },
                    afterFit: s => { s.height = c.showX ? 40 : 0; },
                    afterBuildTicks: s => { s.ticks = c.xTicks.map(v => ({ value: v })); },
                    ticks: {
                        display: c.showX, autoSkip: false, maxRotation: 0, font: { size: c.xFont }, padding: 3, labelOffset: 4,
                        callback: v => isMajor(v) ? v.toFixed(c.digits) : ''
                    }
                },
                y: {
                    type: 'linear', reverse: true, min: .4, max: c.terms.length + .6,
                    border: { display: false },
                    grid: { color: '#ececec', drawTicks: true, tickLength: 3, tickColor: '#555' },
                    afterFit: s => { s.width = c.area.left - box.left; },
                    afterBuildTicks: s => { s.ticks = c.terms.map((_, i) => ({ value: i + 1 })); },
                    ticks: { autoSkip: false, font: { size: c.yFont }, padding: c.yPad, callback: (v, i) => c.terms[i] }
                }
            },
            plugins: { panelFrame: { color: c.frame, width: c.frameWidth } }
        },
        plugins: [panelFrame]
    });
}

const sizeF = n => 1.28 * Math.sqrt(n);
const sizeG = n => 1.46 + .79 * Math.sqrt(n);
const qF = q => (q - .0024) / .0413;
const qG = q => q / .00287;

dotChart({ terms: fTerms, ratio: fRatio, count: fCount, q: fQ, size: sizeF, qT: qF, showX: true,
    area: { left: 1495, right: 1843.5, top: 38.3, bottom: 364.3 }, xMin: .01593, xMax: .09422, xTicks: fXTicks, major: [.02,.04,.06,.08], digits: 2,
    xFont: 15, yFont: 13.4, yPad: 5, frame: '#bdbdbd', frameWidth: 2 });

const gCommon = { size: sizeG, qT: qG, xMin: .00405, xMax: .10238, xTicks: gXTicks, major: [.025,.05,.075,.1], digits: 3, xFont: 17, yFont: 13, yPad: 2, frame: '#8a8a8a', frameWidth: 1.5 };
dotChart({ ...gCommon, terms: gBpTerms, ratio: gBpRatio, count: gBpCount, q: gBpQ, showX: false, area: { left: 1486.3, right: 1849.2, top: 485.3, bottom: 674.3 } });
dotChart({ ...gCommon, terms: gCcTerms, ratio: gCcRatio, count: gCcCount, q: gCcQ, showX: false, area: { left: 1486.3, right: 1849.2, top: 681, bottom: 870 } });
dotChart({ ...gCommon, terms: gMfTerms, ratio: gMfRatio, count: gMfCount, q: gMfQ, showX: true, area: { left: 1486.3, right: 1849.2, top: 876.7, bottom: 1065.3 } });

// strips beside panel G
[['BP', 485.3, 674.3], ['CC', 681, 870], ['MF', 876.7, 1065.3]].forEach(([name, y1, y2]) => {
    addRect(1849.2, y1, 1866.4, y2, { background: '#d3d3d3', borderLeft: '1.5px solid #777', boxSizing: 'border-box' });
    addText(name, 1858, (y1 + y2) / 2, 12, { rot: 90 });
});

// legends
const qGradient = 'linear-gradient(to bottom,' + [1, .75, .5, .25, 0].map(qColor).join(',') + ')';
function countLegend(counts, size, x, ys, labelX, labelYs, font) {
    counts.forEach((n, i) => {
        const r = size(n);
        addRect(x - r, ys[i] - r, x + r, ys[i] + r, { background: '#000', borderRadius: '50%' });
        addText(String(n), labelX, labelYs[i], font, { left: true });
    });
}
addText('Count', 1857, 117.3, 15.5, { left: true });
countLegend(fLegendCount, sizeF, 1865.5, [132.7, 145.7, 158.7, 172.7, 188.3], 1877.4, [130.7, 143.3, 156.7, 170.7, 186], 15);
addText('qvalue', 1857, 224.7, 15.5, { left: true });
addRect(1857.6, 235, 1869.9, 298.3, { background: qGradient });
fLegendQ.forEach((q, i) => addText(q.toFixed(2), 1873.8, [240.7, 256.7, 271.7, 286.7][i], 15, { left: true }));

addText('Count', 1883, 669.3, 17.5, { left: true });
countLegend(gLegendCount, sizeG, 1894, [691.7, 708.7, 728.3, 749.3], 1910.7, [689.3, 706.7, 725.7, 747.3], 17.5);
addText('qvalue', 1883, 786, 17.5, { left: true });
addRect(1883, 797.3, 1899.8, 882.7, { background: qGradient });
gLegendQ.forEach((q, i) => addText(q.toFixed(3), 1905, [822.3, 851][i], 17, { left: true }));

// T / N key of panel C
addRect(1254, 64, 1270, 74, { border: '1.6px solid ' + RED, boxSizing: 'border-box' });
addRect(1254, 84.7, 1270, 95, { border: '1.6px solid ' + GREEN, boxSizing: 'border-box' });
addText('T', 1273, 69, 14, { left: true });
addText('N', 1273, 90, 14, { left: true });

// axis titles
addText('score', 9.5, 153, 17, { rot: -90 });
addText('expression level', 208.5, 145.7, 15.3, { rot: -90 });
addText('log 10 expression', 715.6, 148, 15, { rot: -90 });
addText('GeneRatio', 1678.3, 396.7, 15.5);
addText('GeneRatio', 1662, 1126.7, 17.5);

// group brackets under the heat maps
const lineD = { background: '#666' };
[[143.5,236.5],[245,332],[344.8,437.7],[445.6,533]].forEach(([a, b]) => addRect(a, 1108.5, b, 1110, lineD));
[[142.3,334],[348,539.7]].forEach(([a, b]) => addRect(a, 1130, b, 1131.5, lineD));
addText('VDJ', 181, 1118.7, 13.5);
addText('CDR3aa', 281, 1119.7, 13.5);
addText('VDJ', 382, 1119.7, 13.5);
addText('CDR3aa', 482.4, 1120, 13.5);
addText('NSDE', 230.5, 1141, 13.5);
addText('Unique clonotypes', 434, 1138.3, 13.5);
addText('Correlation in T', 327.8, 1158, 14);

[[751.8,850.2],[856.6,947.5],[960,1054.3],[1063,1154.7]].forEach(([a, b]) => addRect(a, 1098.5, b, 1099.7, { background: '#333' }));
[[752.6,944.3],[964.9,1157]].forEach(([a, b]) => addRect(a, 1121.5, b, 1123, lineD));
addText('VDJ', 793.3, 1110.7, 14.5);
addText('CDR3aa', 896.9, 1112, 14.5);
addText('VDJ', 1000, 1111.5, 14.5);
addText('CDR3aa', 1103.7, 1112.5, 14.5);
addText('NSDE', 839.6, 1134, 14);
addText('Unique clonotypes', 1052.7, 1135, 14);
addText('Correlation in N', 926, 1151.7, 15.5);

// panel letters
[['A', 7, 15.5], ['B', 199.5, 15.5], ['C', 700.6, 15.5], ['D', 7, 417], ['E', 638, 416.5], ['F', 1302.6, 15.5], ['G', 1294, 416.5]].forEach(([s, x, y]) => {
    addText(s, x, y, 26, { left: true, bold: true, family: '"Liberation Sans"' });
});
</script>
</body>
</html>
